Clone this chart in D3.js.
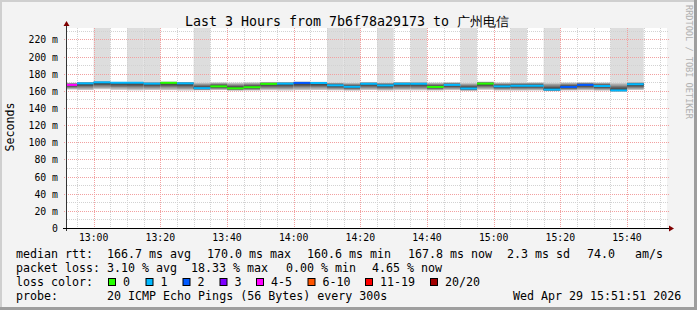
<!DOCTYPE html>
<html><head><meta charset="utf-8">
<script src="https://cdn.jsdelivr.net/npm/d3@7"></script>
<style>body{margin:0;background:#f3f3f3}svg{display:block}text{font-family:"DejaVu Sans Mono",monospace}</style>
</head><body><svg id="c" width="697" height="310"></svg>
<script>
// ---- data ----
const intervalStarts = ["12:50","12:55","13:00","13:05","13:10","13:15","13:20","13:25","13:30","13:35","13:40","13:45","13:50","13:55","14:00","14:05","14:10","14:15","14:20","14:25","14:30","14:35","14:40","14:45","14:50","14:55","15:00","15:05","15:10","15:15","15:20","15:25","15:30","15:35","15:40"];
const medianMs = [167.0,168.8,170.0,169.5,169.5,168.5,169.4,168.8,163.2,165.3,163.0,164.3,168.2,168.5,169.3,169.2,166.5,164.8,168.3,166.4,168.3,168.3,164.6,167.0,162.8,168.5,165.3,166.0,166.0,161.5,164.6,167.0,165.7,160.6,167.8];
const lossBucket = [4,1,1,1,1,1,0,1,1,0,0,0,0,1,2,1,1,1,1,1,1,1,0,1,1,0,1,1,1,1,2,2,1,1,1];
const smokeHi = [169.5,170.2,171.0,170.5,170.6,170.2,170.8,170.3,169.8,170.0,169.6,170.0,170.4,170.3,170.8,170.6,169.9,169.5,170.2,169.8,170.2,170.1,169.7,170.0,169.5,170.8,169.8,169.9,170.0,169.6,169.8,170.0,169.8,169.4,170.2];
const smokeLo = [161.6,161.0,162.0,161.3,160.7,161.0,160.9,160.5,160.7,161.0,160.3,160.4,160.8,160.5,160.9,161.1,160.7,160.3,161.0,160.5,160.8,160.7,160.5,160.9,160.1,161.3,160.5,160.4,160.5,159.7,160.5,160.7,160.3,159.2,161.0];
const grayFlag = [0,0,1,0,1,1,0,0,1,0,0,0,0,0,0,0,1,1,0,1,0,1,0,0,1,0,0,1,0,1,0,0,0,1,1];
const lossLabels = ["0","1","2","3","4-5","6-10","11-19","20/20"];
const lossColors = ["#26ff00","#00b8ff","#0059ff","#7e00ff","#ff00ff","#ff5500","#ff0000","#a10000"];
const yTicks = [0,20,40,60,80,100,120,140,160,180,200,220];
const xTickLabels = ["13:00","13:20","13:40","14:00","14:20","14:40","15:00","15:20","15:40"];
const title = "Last 3 Hours from 7b6f78a29173 to 广州电信";
const legendRtt = [["median rtt:",16],["166.7 ms avg",107],["170.0 ms max",207],["160.6 ms min",307],["167.8 ms now",408],["2.3 ms sd",507],["74.0",587],["am/s",635]];
const legendLoss = [["packet loss:",16],["3.10 % avg",107],["18.33 % max",191],["0.00 % min",286],["4.65 % now",372]];
const legendProbe = [["probe:",16],["20 ICMP Echo Pings (56 Bytes) every 300s",107],["Wed Apr 29 15:51:51 2026",513]];

// ---- chart ----
const svg = d3.select("#c");
const W=697,H=310, L=67, R=667, T=28, B=228;
const pt = s => { const [h,m]=s.split(":").map(Number); return new Date(Date.UTC(2026,3,29,h,m)); };
const x = d3.scaleUtc().domain([pt("12:52"), pt("15:52")]).range([L,R]);
const y = d3.scaleLinear().domain([0,233.4]).range([B,T]);

// frame
svg.append("rect").attr("width",W).attr("height",H).attr("fill","#f3f3f3");
svg.append("rect").attr("x",0).attr("y",0).attr("width",W).attr("height",2).attr("fill","#cfcfcf");
svg.append("rect").attr("x",0).attr("y",0).attr("width",2).attr("height",H).attr("fill","#cfcfcf");
svg.append("rect").attr("x",0).attr("y",H-3).attr("width",W).attr("height",3).attr("fill","#9e9e9e");
svg.append("rect").attr("x",W-3).attr("y",0).attr("width",3).attr("height",H).attr("fill","#9e9e9e");

svg.append("rect").attr("x",L).attr("y",T).attr("width",R-L).attr("height",B-T).attr("fill","#fff");

svg.append("defs").append("clipPath").attr("id","pc").append("rect").attr("x",L).attr("y",T).attr("width",R-L).attr("height",B-T);
const g = svg.append("g").attr("clip-path","url(#pc)");
const iv = intervalStarts.map((s,i)=>({s:pt(s), e:new Date(pt(s).getTime()+300000), i}));

// gray bars
g.selectAll(".gb").data(iv.filter(d=>grayFlag[d.i])).join("rect")
 .attr("x",d=>x(d.s)).attr("width",d=>x(d.e)-x(d.s))
 .attr("y",T).attr("height",d=>y(smokeHi[d.i])-T).attr("fill","#dddddd");

// grid
const gridG = svg.append("g");
const minorX = d3.utcMinute.every(5).range(pt("12:55"), pt("15:52"));
minorX.forEach(t=>{ const major = t.getUTCMinutes()%20===0;
  gridG.append("line").attr("x1",Math.round(x(t))+0.5).attr("x2",Math.round(x(t))+0.5).attr("y1",T).attr("y2",B+2)
   .attr("stroke",major?"#f2a0a0":"#d2d2d2").attr("stroke-dasharray","1,1"); });
d3.range(10,231,10).forEach(v=>{ const major=v%20===0;
  gridG.append("line").attr("x1",L-(major?3:0)).attr("x2",R+2).attr("y1",Math.round(y(v))+0.5).attr("y2",Math.round(y(v))+0.5)
   .attr("stroke",major?"#f2a0a0":"#d2d2d2").attr("stroke-dasharray","1,1"); });

// smoke
const shades = ["#c4c4c4","#9e9e9e","#7a7a7a","#575757","#3c3c3c"];
const sm = svg.append("g").attr("clip-path","url(#pc)");
iv.forEach(d=>{ const i=d.i, m=medianMs[i];
  shades.forEach((c,k)=>{ const hi = smokeHi[i]-(smokeHi[i]-m)*k/5, lo = smokeLo[i]+(m-smokeLo[i])*k/5;
    sm.append("rect").attr("x",x(d.s)).attr("width",x(d.e)-x(d.s)).attr("y",y(hi)).attr("height",Math.max(0.5,y(lo)-y(hi))).attr("fill",c); });
});
// median
sm.selectAll(".md").data(iv).join("rect")
 .attr("x",d=>x(d.s)).attr("width",d=>x(d.e)-x(d.s))
 .attr("y",d=>y(medianMs[d.i])-1).attr("height",2).attr("fill",d=>lossColors[lossBucket[d.i]]);

// axes
svg.append("line").attr("x1",L-0.5).attr("x2",L-0.5).attr("y1",B+3).attr("y2",T-4).attr("stroke","#333");
svg.append("path").attr("d",`M${L-3.5},${T-2} L${L-0.5},${T-7} L${L+2.5},${T-2} Z`).attr("fill","#7f0000");
svg.append("line").attr("x1",L-4).attr("x2",R+3).attr("y1",B+0.5).attr("y2",B+0.5).attr("stroke","#000");
svg.append("path").attr("d",`M${R+2},${B-2.5} L${R+7},${B+0.5} L${R+2},${B+3.5} Z`).attr("fill","#7f0000");

yTicks.forEach(v=>{ svg.append("text").attr("x",58).attr("y",Math.round(y(v))+4).attr("text-anchor","end")
  .attr("font-size","9.8px").attr("xml:space","preserve").text(v===0?"0":v+" m"); });
xTickLabels.forEach(s=>{ svg.append("text").attr("x",x(pt(s))).attr("y",241).attr("text-anchor","middle").attr("font-size","9.8px").text(s); });

// title and labels
svg.append("text").attr("x",347).attr("y",26).attr("text-anchor","middle").attr("font-size","13.3px").text(title);
svg.append("text").attr("transform","translate(14,127) rotate(-90)").attr("text-anchor","middle").attr("font-size","11.6px").text("Seconds");
svg.append("text").attr("transform","translate(685.5,5) rotate(90)").attr("text-anchor","start").attr("font-size","8.6px").attr("fill","#b0b0b0").text("RRDTOOL / TOBI OETIKER");

// legend
const lg = (items,yy)=>items.forEach(([t,xx])=>svg.append("text").attr("x",xx).attr("y",yy).attr("font-size","11.65px").attr("xml:space","preserve").text(t));
lg(legendRtt,258); lg(legendLoss,272);
svg.append("text").attr("x",16).attr("y",286).attr("font-size","11.65px").text("loss color:");
const swX = [108,145.5,182.5,219.5,256,307.5,365,430];
lossLabels.forEach((lab,i)=>{
  svg.append("rect").attr("x",swX[i]+0.5).attr("y",278.5).attr("width",7).attr("height",7).attr("fill",lossColors[i]).attr("stroke","#000");
  svg.append("text").attr("x",swX[i]+15).attr("y",286).attr("font-size","11.65px").text(lab);
});
lg(legendProbe,300);
</script></body></html>
